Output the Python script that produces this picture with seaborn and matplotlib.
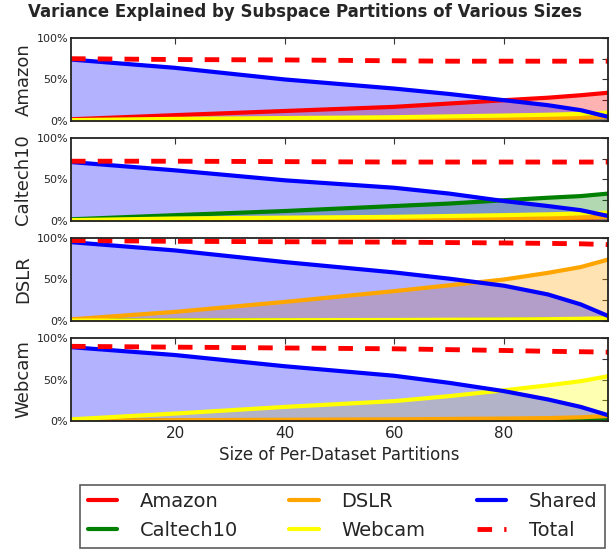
import matplotlib
matplotlib.use("Agg")
import matplotlib.pyplot as plt
import numpy as np
import seaborn as sns

# partition sizes (x) and explained variance (%) per panel
sizes = [1, 20, 40, 60, 70, 80, 88, 94, 99]

panels = ["Amazon", "Caltech10", "DSLR", "Webcam"]

amazon_panel = {
    "Amazon":    [2, 7, 12, 17, 21, 25, 28, 31, 34],
    "Caltech10": [1, 1.5, 2, 2.5, 3, 3.5, 4, 4.5, 5],
    "DSLR":      [0.5, 1, 1.5, 2, 2.5, 3, 3.5, 4, 5],
    "Webcam":    [1, 2.5, 3.5, 4.5, 5.5, 6.5, 7.5, 8.5, 10],
    "Shared":    [74, 64, 50, 39, 32.5, 25, 19, 13, 5],
    "Total":     [75, 74, 73.5, 72.5, 72, 72, 72, 72, 72],
}
caltech_panel = {
    "Amazon":    [0.5, 1, 1.5, 2, 2.5, 3, 3.5, 4, 5],
    "Caltech10": [2, 7, 12, 18, 21, 25, 28, 30, 33],
    "DSLR":      [0.5, 1, 1.5, 2, 2.5, 3, 3.5, 4, 5],
    "Webcam":    [1, 3, 4, 5, 6, 7, 8, 9, 10],
    "Shared":    [71, 61, 49, 40, 33, 24, 18, 13, 6],
    "Total":     [72, 72, 71.5, 71, 71, 71, 71, 71, 71],
}
dslr_panel = {
    "Amazon":    [0.2, 0.3, 0.5, 0.6, 0.8, 1, 1.2, 1.5, 2],
    "Caltech10": [0.3, 0.5, 0.7, 0.9, 1.1, 1.3, 1.6, 2, 3],
    "DSLR":      [2, 11, 23, 36, 43, 50, 58, 65, 74],
    "Webcam":    [0.5, 0.7, 1, 1.2, 1.5, 1.8, 2.2, 2.7, 3.5],
    "Shared":    [95, 85, 71, 58.5, 51, 42.5, 32, 20, 6],
    "Total":     [97, 96, 95.5, 95, 94.5, 94, 93.5, 93, 92],
}
webcam_panel = {
    "Amazon":    [0.2, 0.3, 0.4, 0.5, 0.6, 0.8, 1, 1.3, 2],
    "Caltech10": [0.2, 0.3, 0.4, 0.6, 0.8, 1, 1.3, 1.7, 2.5],
    "DSLR":      [0.5, 1, 1.5, 2, 2.5, 3, 3.5, 4.5, 6],
    "Webcam":    [2, 9, 17, 24, 30, 37, 43, 48, 54],
    "Shared":    [89, 79.5, 66, 54.5, 46, 36, 26, 17, 7],
    "Total":     [90, 89, 88, 87, 86, 85, 84, 83.5, 83],
}
panel_data = [amazon_panel, caltech_panel, dslr_panel, webcam_panel]

series = ["Amazon", "Caltech10", "DSLR", "Webcam", "Shared"]
colors = {"Amazon": "red", "Caltech10": "green", "DSLR": "orange",
          "Webcam": "yellow", "Shared": "blue", "Total": "red"}

sns.set_style("white")
plt.rcParams["font.family"] = ["DejaVu Sans"]

fig, axes = plt.subplots(4, 1, figsize=(6.1, 5.5), dpi=100, sharex=True)
fig.subplots_adjust(left=0.1164, right=0.997, top=0.931, bottom=0.2345, hspace=0.205)

for ax, name, data in zip(axes, panels, panel_data):
    # 1. Filled areas + lines for each component
    for s in series:
        ax.fill_between(sizes, 0, data[s], color=colors[s], alpha=0.3, lw=0)
    for s in series:
        sns.lineplot(x=sizes, y=data[s], ax=ax, color=colors[s], lw=3, label=s)
    # 2. Total variance, dashed
    sns.lineplot(x=sizes, y=data["Total"], ax=ax, color="red", lw=3.5,
                 dashes=False, label="Total").lines[-1].set_dashes((3, 2.5))

    # 3. Axis
    ax.set_xlim(1, 99)
    ax.set_ylim(0, 100)
    ax.set_yticks([0, 25, 50, 75, 100])
    ax.set_yticklabels(["0%", "", "50%", "", "100%"])
    ax.set_xticks([20, 40, 60, 80])
    ax.tick_params(direction="in", top=True, right=True, length=4,
                   color="#333333")
    ax.tick_params(axis="y", labelsize=8, pad=2)
    ax.tick_params(axis="x", labelsize=11)
    ax.set_ylabel(name, fontsize=13, labelpad=3)
    for sp in ax.spines.values():
        sp.set_color("#222222")
        sp.set_linewidth(1.3)
    ax.get_legend().remove()

axes[-1].set_xlabel("Size of Per-Dataset Partitions", fontsize=12)

fig.suptitle("Variance Explained by Subspace Partitions of Various Sizes",
             fontsize=12, fontweight="bold", y=0.995)

# 4. Legend below the panels
handles, labels = axes[0].get_legend_handles_labels()
leg = fig.legend(handles, labels, ncol=3, fontsize=14, loc="lower left",
                 bbox_to_anchor=(0.131, 0.004, 0.861, 0.114), mode="expand",
                 frameon=True, fancybox=False, handlelength=1.52,
                 handletextpad=1.15, borderaxespad=0, columnspacing=1.0)
leg.get_frame().set_edgecolor("#333333")
leg.get_frame().set_linewidth(1.2)

plt.savefig("out.png", dpi=100)
plt.close()
